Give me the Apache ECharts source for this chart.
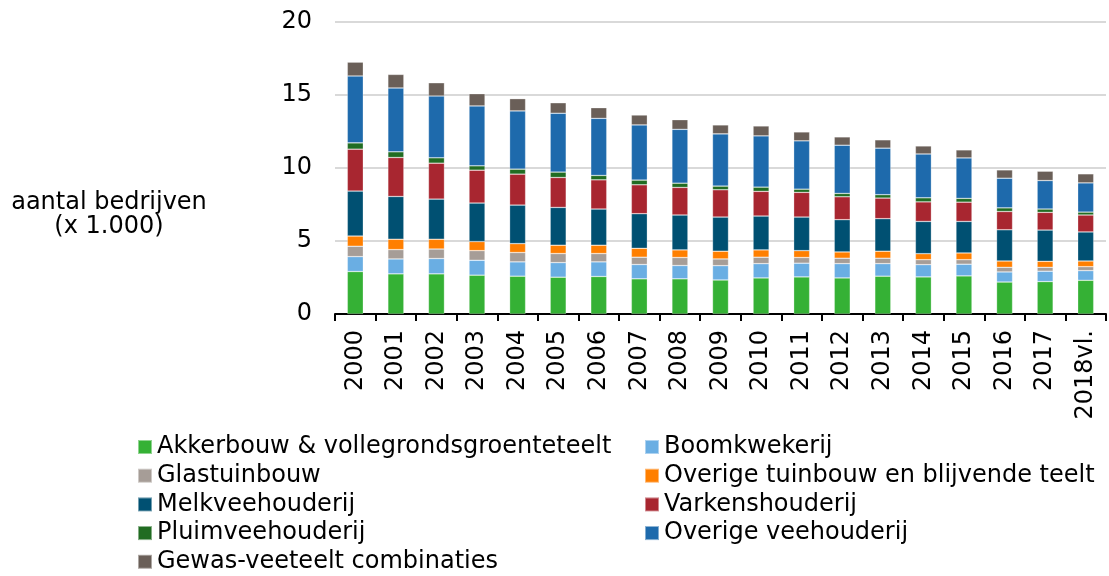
<!DOCTYPE html>
<html>
<head>
    <meta charset="utf-8">
    <title>Bedrijven per type</title>
    <script src="https://cdn.jsdelivr.net/npm/echarts@6/dist/echarts.min.js"></script>
    <style>
        html, body { margin: 0; padding: 0; background: #fff; }
    </style>
</head>
<body>
    <div id="main" style="width: 1109px;height:576px;"></div>
    <script type="text/javascript">
        // jaren (x-as)
        var years = ['2000', '2001', '2002', '2003', '2004', '2005', '2006', '2007', '2008', '2009',
            '2010', '2011', '2012', '2013', '2014', '2015', '2016', '2017', '2018vl.'];
        var yTicks = [0, 5, 10, 15, 20];

        // aantallen x 1.000
        var akkerbouw = [2.91, 2.75, 2.75, 2.66, 2.59, 2.52, 2.57, 2.41, 2.41, 2.33, 2.47, 2.54, 2.47, 2.59, 2.54, 2.61, 2.19, 2.22, 2.31];
        var boomkwekerij = [1.02, 1.02, 1.05, 1.02, 0.98, 1.00, 1.00, 0.98, 0.91, 0.98, 0.98, 0.94, 0.98, 0.86, 0.84, 0.80, 0.69, 0.71, 0.66];
        var glastuinbouw = [0.71, 0.64, 0.65, 0.66, 0.64, 0.62, 0.57, 0.50, 0.55, 0.46, 0.44, 0.39, 0.37, 0.37, 0.34, 0.31, 0.32, 0.27, 0.27];
        var overigeTuinbouw = [0.70, 0.71, 0.67, 0.62, 0.61, 0.57, 0.57, 0.61, 0.52, 0.53, 0.50, 0.47, 0.43, 0.48, 0.41, 0.46, 0.43, 0.41, 0.39];
        var melkvee = [3.08, 2.93, 2.75, 2.64, 2.64, 2.59, 2.48, 2.37, 2.39, 2.34, 2.32, 2.30, 2.21, 2.23, 2.21, 2.16, 2.14, 2.14, 1.99];
        var varkens = [2.87, 2.67, 2.46, 2.25, 2.12, 2.05, 2.00, 1.98, 1.89, 1.87, 1.69, 1.69, 1.57, 1.41, 1.34, 1.32, 1.25, 1.21, 1.16];
        var pluimvee = [0.43, 0.39, 0.37, 0.30, 0.34, 0.37, 0.30, 0.32, 0.29, 0.25, 0.29, 0.22, 0.23, 0.23, 0.28, 0.26, 0.25, 0.23, 0.20];
        var overigeVee = [4.58, 4.37, 4.23, 4.10, 3.99, 4.03, 3.91, 3.78, 3.69, 3.58, 3.51, 3.31, 3.30, 3.19, 3.00, 2.77, 2.03, 1.95, 2.00];
        var gewasVee = [0.95, 0.93, 0.91, 0.84, 0.84, 0.72, 0.73, 0.68, 0.66, 0.61, 0.68, 0.61, 0.57, 0.57, 0.55, 0.55, 0.57, 0.64, 0.62];

        var names = ['Akkerbouw & vollegrondsgroenteteelt', 'Boomkwekerij', 'Glastuinbouw',
            'Overige tuinbouw en blijvende teelt', 'Melkveehouderij', 'Varkenshouderij',
            'Pluimveehouderij', 'Overige veehouderij', 'Gewas-veeteelt combinaties'];
        var values = [akkerbouw, boomkwekerij, glastuinbouw, overigeTuinbouw, melkvee, varkens, pluimvee, overigeVee, gewasVee];
        var colors = ['#35b135', '#6aaee3', '#a69d97', '#ff7f00', '#005072', '#a82630', '#216c22', '#1e6aac', '#6a5f58'];

        var font = 'DejaVu Sans, Verdana, sans-serif';
        var fsize = 24;

        var series = [];
        for (var i = 0; i < names.length; i++) {
            series.push({
                name: names[i],
                type: 'bar',
                stack: 'totaal',
                barWidth: 16,
                data: values[i],
                itemStyle: {
                    color: colors[i],
                    borderColor: 'rgba(255,255,255,0.45)',
                    borderWidth: 0.6
                }
            });
        }

        var legendText = { color: '#000', fontSize: fsize, fontFamily: font, lineHeight: 24 };

        var myChart = echarts.init(document.getElementById('main'));
        var option = {
            animation: false,
            color: colors,
            grid: { left: 335, right: 3, top: 22, bottom: 262 },
            legend: [
                {
                    orient: 'vertical', left: 137, top: 435, padding: 0, height: 142,
                    itemWidth: 14, itemHeight: 14, itemGap: 4.7,
                    icon: 'rect', textStyle: legendText,
                    data: [names[0], names[2], names[4], names[6], names[8]]
                },
                {
                    orient: 'vertical', left: 644, top: 435, padding: 0, height: 142,
                    itemWidth: 14, itemHeight: 14, itemGap: 4.7,
                    icon: 'rect', textStyle: legendText,
                    data: [names[1], names[3], names[5], names[7]]
                }
            ],
            graphic: [{
                type: 'text',
                x: 109,
                y: 191,
                style: {
                    text: 'aantal bedrijven\n(x 1.000)',
                    fill: '#000',
                    font: fsize + 'px ' + font,
                    align: 'center',
                    verticalAlign: 'top',
                    lineHeight: 24
                }
            }],
            xAxis: {
                type: 'category',
                data: years,
                axisLine: { lineStyle: { color: '#000', width: 2 } },
                axisTick: { show: true, length: 7, lineStyle: { color: '#000', width: 2 } },
                axisLabel: { rotate: 90, margin: 16, color: '#000', fontSize: fsize, fontFamily: font, interval: 0 }
            },
            yAxis: {
                type: 'value',
                min: yTicks[0],
                max: yTicks[yTicks.length - 1],
                interval: 5,
                axisLine: { show: false },
                axisTick: { show: false },
                axisLabel: { margin: 23, color: '#000', fontSize: fsize, fontFamily: font },
                splitLine: { lineStyle: { color: '#d9d9d9', width: 2 } }
            },
            series: series
        };
        myChart.setOption(option);
    </script>
</body>
</html>
